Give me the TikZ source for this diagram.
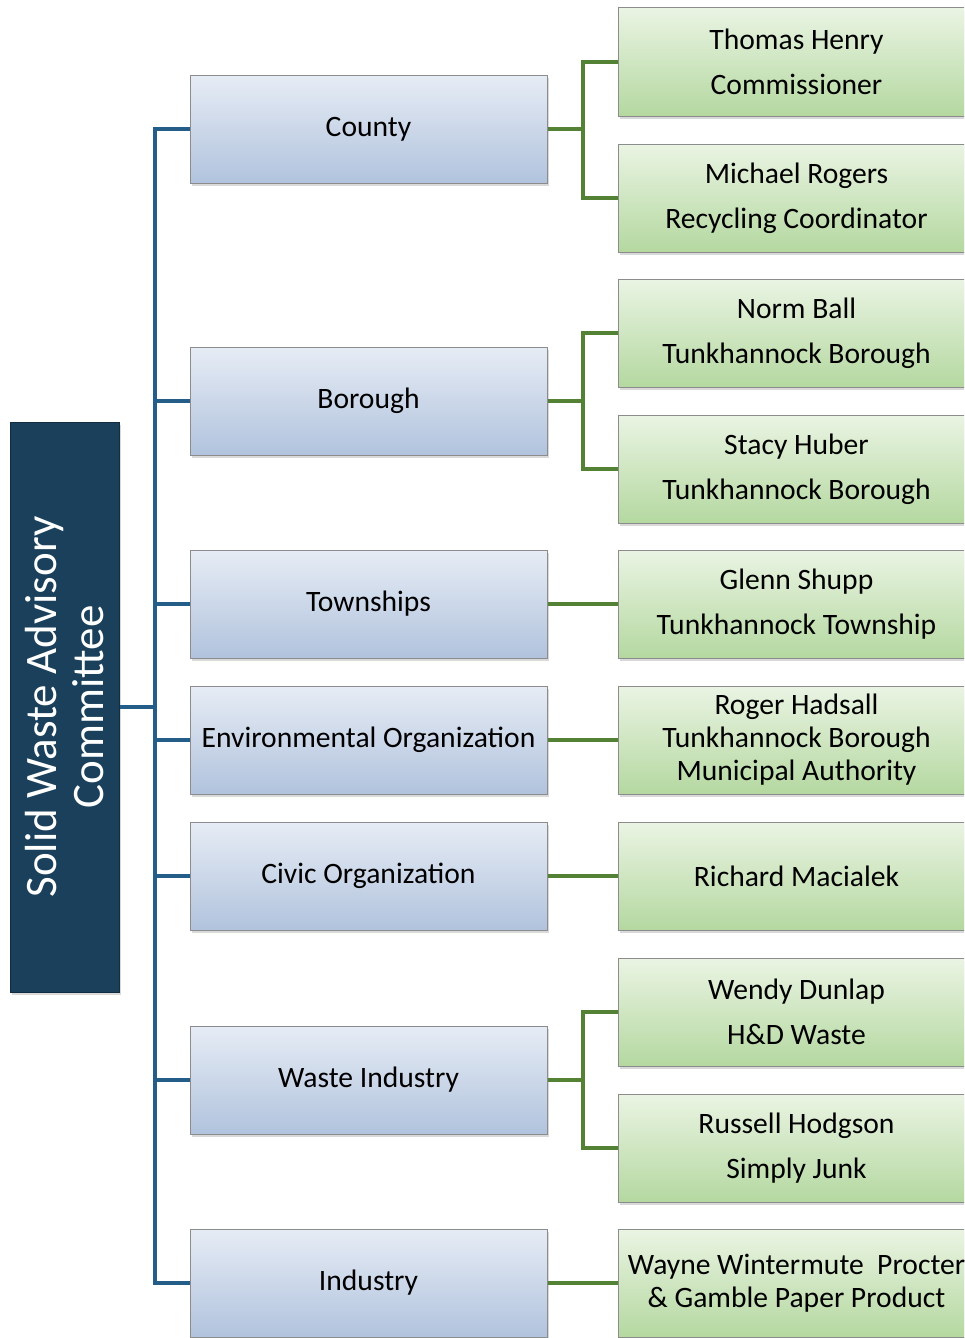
\documentclass[tikz,border=0pt]{standalone}
\usepackage{fontspec}
\setmainfont{Carlito}
\usetikzlibrary{shadows}
\definecolor{rootnavy}{HTML}{1A405B}
\definecolor{spineblue}{HTML}{245D87}
\definecolor{forkgreen}{HTML}{548235}
\definecolor{grouptop}{HTML}{E6ECF5}
\definecolor{groupbot}{HTML}{B1C3DD}
\definecolor{membertop}{HTML}{EAF4E3}
\definecolor{memberbot}{HTML}{B4D8A0}
\definecolor{boxedge}{HTML}{8C8C8C}

\tikzset{
  boxbase/.style={draw=boxedge, line width=1pt, inner sep=0pt,
    minimum width=357pt, minimum height=108pt, align=center,
    font=\fontsize{29.6}{33}\selectfont,
    drop shadow={shadow xshift=2pt, shadow yshift=-3pt, opacity=0.3}},
  groupbox/.style={boxbase, top color=grouptop, bottom color=groupbot},
  memberbox/.style={boxbase, top color=membertop, bottom color=memberbot},
  rootbox/.style={fill=rootnavy, draw=rootnavy!70!black, line width=1pt,
    minimum width=109pt, minimum height=570pt, inner sep=0pt,
    drop shadow={shadow xshift=2pt, shadow yshift=-3pt, opacity=0.3}},
  roottext/.style={text=white, align=center, font=\fontsize{45}{47}\selectfont},
  bluelink/.style={draw=spineblue, line width=4pt},
  greenlink/.style={draw=forkgreen, line width=4pt}
}

\begin{document}
\begin{tikzpicture}[x=1pt,y=-1pt]
\useasboundingbox (0,0) rectangle (964,1338);
\clip (0,0) rectangle (964,1338);

% committee on the left
\node[rootbox] (root) at (64.5,707) {};
\node[roottext, rotate=90] (rootlabel) at (root.center) {Solid Waste Advisory\\Committee};
\coordinate (spine) at (155,707);

% groups
\node[groupbox] (county)   at (368.5,129)  {County};
\node[groupbox] (borough)  at (368.5,401)  {Borough};
\node[groupbox] (township) at (368.5,604)  {Townships};
\node[groupbox] (environ)  at (368.5,740)  {Environmental Organization};
\node[groupbox] (civic)    at (368.5,876)  {Civic Organization};
\node[groupbox] (wasteind) at (368.5,1080) {Waste Industry};
\node[groupbox] (industry) at (368.5,1283) {Industry};

% members
\node[memberbox] (henry)     at (796.5,62)   {Thomas Henry\\[12pt]Commissioner};
\node[memberbox] (rogers)    at (796.5,198)  {Michael Rogers\\[12pt]Recycling Coordinator};
\node[memberbox] (ball)      at (796.5,333)  {Norm Ball\\[12pt]Tunkhannock Borough};
\node[memberbox] (huber)     at (796.5,469)  {Stacy Huber\\[12pt]Tunkhannock Borough};
\node[memberbox] (shupp)     at (796.5,604)  {Glenn Shupp\\[12pt]Tunkhannock Township};
\node[memberbox] (hadsall)   at (796.5,740)  {Roger Hadsall\\Tunkhannock Borough\\Municipal Authority};
\node[memberbox] (macialek)  at (796.5,876)  {Richard Macialek};
\node[memberbox] (dunlap)    at (796.5,1012) {Wendy Dunlap\\[12pt]H\&D Waste};
\node[memberbox] (hodgson)   at (796.5,1148) {Russell Hodgson\\[12pt]Simply Junk};
\node[memberbox] (wintermute) at (796.5,1283) {Wayne Wintermute~ Procter\\\& Gamble Paper Product};

% spine to the groups
\draw[bluelink] (root.east) -- (spine);
\draw[bluelink] (spine) |- (county.west);
\draw[bluelink] (spine) |- (borough.west);
\draw[bluelink] (spine) |- (township.west);
\draw[bluelink] (spine) |- (environ.west);
\draw[bluelink] (spine) |- (civic.west);
\draw[bluelink] (spine) |- (wasteind.west);
\draw[bluelink] (spine) |- (industry.west);

% groups to members
\draw[greenlink] (county.east) -- ++(35,0) |- (henry.west);
\draw[greenlink] (county.east) -- ++(35,0) |- (rogers.west);
\draw[greenlink] (borough.east) -- ++(35,0) |- (ball.west);
\draw[greenlink] (borough.east) -- ++(35,0) |- (huber.west);
\draw[greenlink] (township.east) -- (shupp.west);
\draw[greenlink] (environ.east) -- (hadsall.west);
\draw[greenlink] (civic.east) -- (macialek.west);
\draw[greenlink] (wasteind.east) -- ++(35,0) |- (dunlap.west);
\draw[greenlink] (wasteind.east) -- ++(35,0) |- (hodgson.west);
\draw[greenlink] (industry.east) -- (wintermute.west);
\end{tikzpicture}
\end{document}
